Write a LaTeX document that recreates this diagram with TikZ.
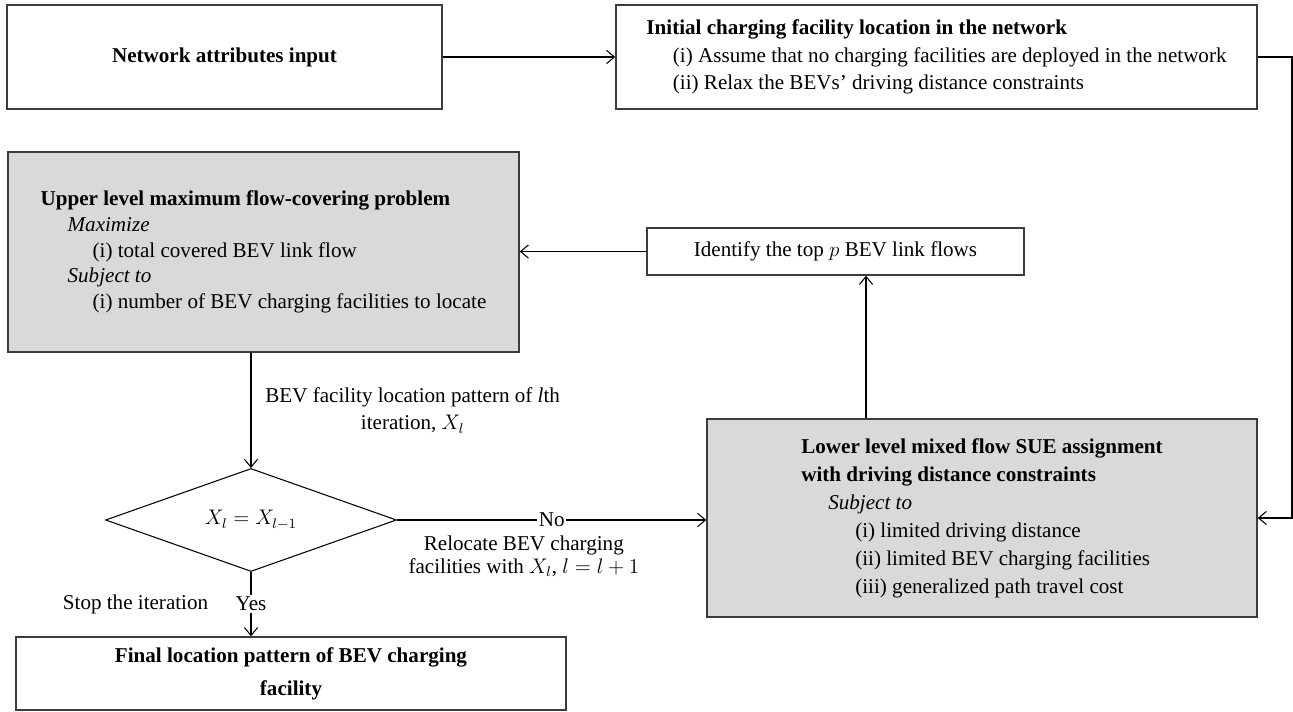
\documentclass[tikz,border=0pt]{standalone}
\usepackage{fontspec}
\setmainfont{Liberation Serif}
\usepackage{tikz}
\usetikzlibrary{shapes,arrows,arrows.meta,positioning,calc,shapes.geometric}
\usepackage{xcolor}
\usepackage{amsmath}
\definecolor{boxgray}{RGB}{216,217,219}
\definecolor{edgegray}{RGB}{60,60,60}

\begin{document}
\begin{tikzpicture}[
    font=\fontsize{12}{15.6}\selectfont,
    block/.style={rectangle, draw=edgegray, line width=0.8pt, inner sep=0pt, align=left},
    graybox/.style={block, fill=boxgray},
    decision/.style={diamond, draw=black, line width=0.6pt, inner sep=0pt, aspect=2.8, minimum width=5.82cm, minimum height=2.06cm},
    arrow/.style={-{Straight Barb[length=4.5pt, width=7.5pt]}, line width=0.6pt},
    note/.style={align=center}
]

% Frame
\useasboundingbox (0,0) rectangle (25.86,-14.24);

% Top row
\node[block, minimum width=8.70cm, minimum height=2.08cm] (input) at (4.49,-1.14) {\textbf{Network attributes input}};

\node[block, minimum width=12.82cm, minimum height=2.08cm] (init) at (18.73,-1.14) {
    \textbf{Initial charging facility location in the network} \\
    \hspace*{0.53cm}(i) Assume that no charging facilities are deployed in the network \\
    \hspace*{0.53cm}(ii) Relax the BEVs’ driving distance constraints
};

% Upper level problem
\node[graybox, font=\fontsize{12}{14.6}\selectfont, minimum width=10.22cm, minimum height=4.00cm] (upper) at (5.27,-5.04) {
    \textbf{Upper level maximum flow-covering problem} \\
    \hspace*{0.54cm}\textit{Maximize} \\
    \hspace*{1.04cm}(i) total covered BEV link flow \\
    \hspace*{0.54cm}\textit{Subject to} \\
    \hspace*{1.04cm}(i) number of BEV charging facilities to locate
};

\node[block, align=center, minimum width=7.54cm, minimum height=0.94cm] (identify) at (16.71,-5.03) {Identify the top $p$ BEV link flows};

% Lower level problem
\node[graybox, font=\fontsize{12}{15.9}\selectfont, minimum width=11.00cm, minimum height=3.96cm] (lower) at (19.64,-10.36) {
    \textbf{Lower level mixed flow SUE assignment} \\
    \textbf{with driving distance constraints} \\
    \hspace*{0.54cm}\textit{Subject to} \\
    \hspace*{1.08cm}(i) limited driving distance \\
    \hspace*{1.08cm}(ii) limited BEV charging facilities \\
    \hspace*{1.08cm}(iii) generalized path travel cost
};

% Convergence check
\node[decision] (check) at (5.02,-10.40) {$X_l = X_{l-1}$};

\node[block, align=center, minimum width=11.00cm, minimum height=1.46cm] (final) at (5.82,-13.47) {\textbf{Final location pattern of BEV charging} \\[0.11cm] \textbf{facility}};

% Connectors
\coordinate (rturn) at (25.84,-1.14);
\draw[arrow] (input) -- (init);
\draw[arrow] (init) -- (rturn) |- (lower);
\draw[arrow] (identify) -- (identify -| upper.east);
\draw[arrow] ([xshift=-2.32cm]lower.north) -- ([xshift=-2.32cm]lower.north |- identify.south);
\draw[arrow] (upper.south -| check.north) -- node[right=0.16cm, note] {BEV facility location pattern of \textit{l}th\\ iteration, $X_l$} (check.north);
\draw[arrow] (check.east) -- node[fill=white, inner sep=1pt] {No} node[pos=0.41, below=0.18cm, note, font=\fontsize{12}{13.5}\selectfont] {Relocate BEV charging\\ facilities with $X_l$, $l = l + 1$} (check.east -| lower.west);
\draw[arrow] (check.south) -- node[fill=white, inner sep=1pt] (yes) {Yes} (final.north -| check.south);
\node[left=0.38cm of yes] (stop) {Stop the iteration};

\end{tikzpicture}
\end{document}
